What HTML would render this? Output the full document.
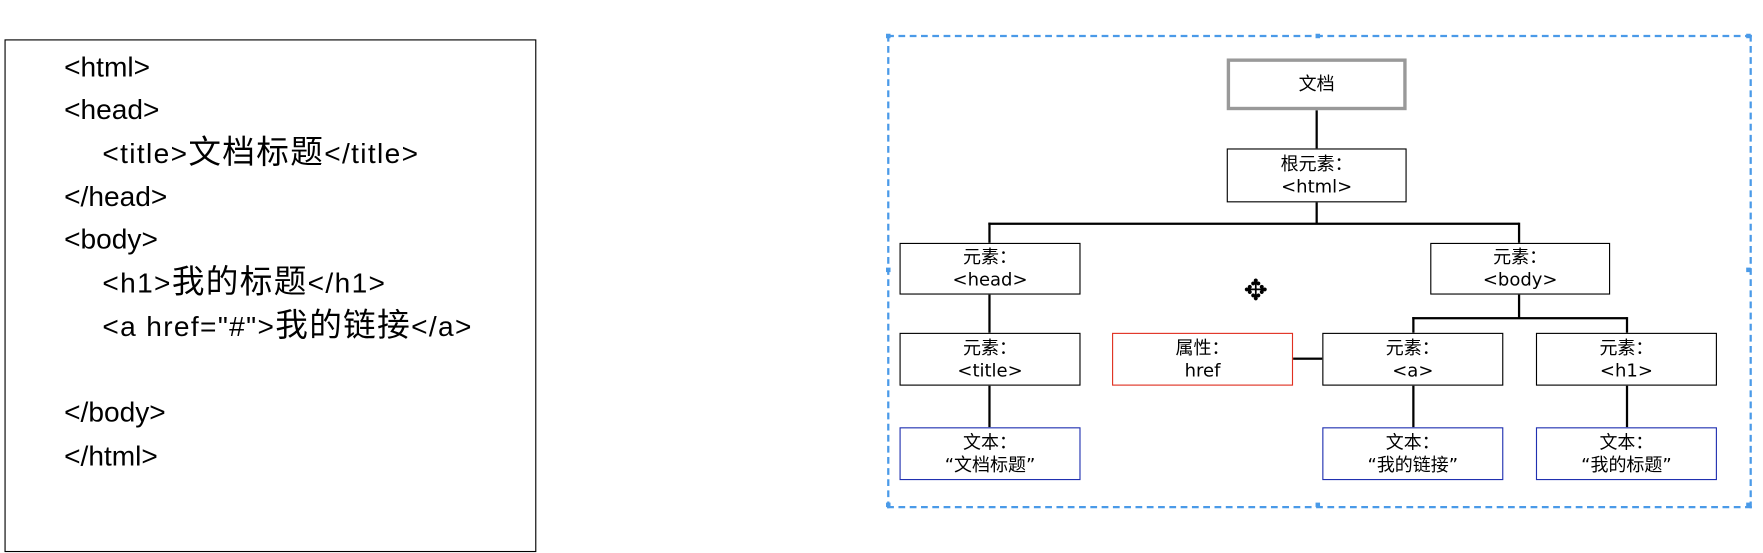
<!DOCTYPE html>
<html><head><meta charset="utf-8"><style>
body{margin:0;width:1763px;height:553px;background:#fff;position:relative;overflow:hidden;font-family:"Liberation Sans","Noto Sans CJK SC",sans-serif}
#w{position:absolute;left:0;top:0;width:1568px;height:492px;transform:scale(1.1244);transform-origin:0 0}
.code{position:absolute;left:4px;top:35px;width:471px;height:454px;border:1px solid #000}
.l{position:absolute;font-size:25px;color:#000;white-space:nowrap;line-height:26px}
.i{letter-spacing:1.2px}
.l span{font-size:29px}
.b{position:absolute;box-sizing:border-box;border:1.5px solid #000;background:#fff;text-align:center;font-size:16px;line-height:20px;font-family:"DejaVu Sans","Noto Sans CJK SC",sans-serif;display:flex;flex-direction:column;justify-content:center}
.ln{position:absolute;background:#000}
.r{border-color:#e03020}.bl{border-color:#2030b0}
.h{position:absolute;width:4px;height:4px;background:#4a9ae8}
</style></head><body><div id="w">
<div class="code"></div>
<div class="l" style="left:57px;top:47px">&lt;html&gt;</div>
<div class="l" style="left:57px;top:85px">&lt;head&gt;</div>
<div class="l i" style="left:91px;top:123px">&lt;title&gt;<span>文档标题</span>&lt;/title&gt;</div>
<div class="l" style="left:57px;top:162px">&lt;/head&gt;</div>
<div class="l" style="left:57px;top:200px">&lt;body&gt;</div>
<div class="l i" style="left:91px;top:238px">&lt;h1&gt;<span>我的标题</span>&lt;/h1&gt;</div>
<div class="l i" style="left:91px;top:277px">&lt;a href=&quot;#&quot;&gt;<span>我的链接</span>&lt;/a&gt;</div>
<div class="l" style="left:57px;top:354px">&lt;/body&gt;</div>
<div class="l" style="left:57px;top:393px">&lt;/html&gt;</div>

<div style="position:absolute;left:789px;top:31px;width:765px;height:417px;border:2px dashed #4a9ae8"></div>
<div class="h" style="left:788px;top:30px"></div><div class="h" style="left:1170px;top:30px"></div><div class="h" style="left:1553px;top:30px"></div>
<div class="h" style="left:788px;top:238px"></div><div class="h" style="left:1553px;top:238px"></div>
<div class="h" style="left:788px;top:447px"></div><div class="h" style="left:1170px;top:447px"></div><div class="h" style="left:1553px;top:447px"></div>

<div class="ln" style="left:1170px;top:98px;width:1.5px;height:34px"></div>
<div class="ln" style="left:1170px;top:180px;width:1.5px;height:19px"></div>
<div class="ln" style="left:879px;top:198px;width:472px;height:1.5px"></div>
<div class="ln" style="left:879px;top:198px;width:1.5px;height:18px"></div>
<div class="ln" style="left:1350px;top:198px;width:1.5px;height:18px"></div>
<div class="ln" style="left:879px;top:262px;width:1.5px;height:34px"></div>
<div class="ln" style="left:879px;top:343px;width:1.5px;height:37px"></div>
<div class="ln" style="left:1350px;top:262px;width:1.5px;height:21px"></div>
<div class="ln" style="left:1256px;top:282px;width:191px;height:1.5px"></div>
<div class="ln" style="left:1256px;top:282px;width:1.5px;height:14px"></div>
<div class="ln" style="left:1446px;top:282px;width:1.5px;height:14px"></div>
<div class="ln" style="left:1150px;top:318px;width:26px;height:1.5px"></div>
<div class="ln" style="left:1256px;top:343px;width:1.5px;height:37px"></div>
<div class="ln" style="left:1446px;top:343px;width:1.5px;height:37px"></div>

<div class="b" style="left:1091px;top:52px;width:160px;height:46px;border:3px solid #999">文档</div>
<div class="b" style="left:1091px;top:132px;width:160px;height:48px">根元素：<br>&lt;html&gt;</div>
<div class="b" style="left:800px;top:216px;width:161px;height:46px">元素：<br>&lt;head&gt;</div>
<div class="b" style="left:1272px;top:216px;width:160px;height:46px">元素：<br>&lt;body&gt;</div>
<div class="b" style="left:800px;top:296px;width:161px;height:47px">元素：<br>&lt;title&gt;</div>
<div class="b r" style="left:989px;top:296px;width:161px;height:47px">属性：<br>href</div>
<div class="b" style="left:1176px;top:296px;width:161px;height:47px">元素：<br>&lt;a&gt;</div>
<div class="b" style="left:1366px;top:296px;width:161px;height:47px">元素：<br>&lt;h1&gt;</div>
<div class="b bl" style="left:800px;top:380px;width:161px;height:47px">文本：<br>“文档标题”</div>
<div class="b bl" style="left:1176px;top:380px;width:161px;height:47px">文本：<br>“我的链接”</div>
<div class="b bl" style="left:1366px;top:380px;width:161px;height:47px">文本：<br>“我的标题”</div>
<div style="position:absolute;left:1106px;top:245px;font-size:26px;line-height:26px">✥</div>
</div></body></html>
